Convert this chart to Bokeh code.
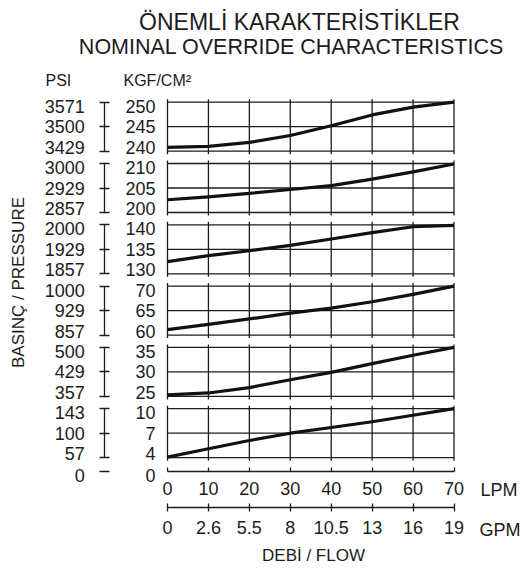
import numpy as np
from bokeh.plotting import figure
from bokeh.models import Range1d, LinearAxis, FixedTicker, Label, ColumnDataSource
from bokeh.embed import file_html
from bokeh.resources import INLINE

# ---------------- data ----------------
lpm = [0, 10, 20, 30, 40, 50, 60, 70]
gpm_labels = ["0", "2.6", "5.5", "8", "10.5", "13", "16", "19"]

kgf_ticks = [
    [240, 245, 250],
    [200, 205, 210],
    [130, 135, 140],
    [60, 65, 70],
    [25, 30, 35],
    [4, 7, 10],
]
psi_labels = [
    ["3429", "3500", "3571"],
    ["2857", "2929", "3000"],
    ["1857", "1929", "2000"],
    ["857", "929", "1000"],
    ["357", "429", "500"],
    ["57", "100", "143"],
]
zero_kgf = [0]
zero_psi = ["0"]

curve_250 = [240.8, 241.0, 241.8, 243.2, 245.2, 247.4, 249.0, 250.0]
curve_210 = [202.6, 203.2, 203.9, 204.7, 205.5, 206.8, 208.3, 209.9]
curve_140 = [132.5, 133.7, 134.7, 135.8, 137.1, 138.4, 139.6, 139.9]
curve_70 = [61.1, 62.2, 63.3, 64.5, 65.5, 66.8, 68.3, 70.0]
curve_35 = [25.3, 25.7, 26.8, 28.4, 29.9, 31.7, 33.4, 35.0]
curve_10 = [4.07, 5.1, 6.1, 7.0, 7.7, 8.4, 9.2, 10.0]
curves = [curve_250, curve_210, curve_140, curve_70, curve_35, curve_10]

title_tr = "ÖNEMLİ KARAKTERİSTİKLER"
title_en = "NOMINAL OVERRIDE CHARACTERISTICS"
psi_head = "PSI"
kgf_head = "KGF/CM²"
y_title = "BASINÇ / PRESSURE"
x_title = "DEBİ / FLOW"
lpm_unit = "LPM"
gpm_unit = "GPM"

# ---------------- layout (pixels, top-left origin) ----------------
W, H = 522, 568
X0_PX, X70_PX = 167.0, 453.5          # where 0 and 70 LPM fall
PANEL_TOP0, PANEL_PITCH, PANEL_H = 101.7, 61.3, 49.0
LABEL_INSET = 4.0                      # end labels sit slightly inside each panel
ZERO_PX = 471.0                        # broken-axis zero line
ZERO_LAB_PX = 474.5
GPM_PX = 506.5                         # GPM scale line
PSI_PX = 104.3                         # PSI scale line
EXT = 3.0                              # grid-line overshoot

ppx = (X70_PX - X0_PX) / (lpm[-1] - lpm[0])
x_start = lpm[0] - X0_PX / ppx
x_end = lpm[-1] + (W - X70_PX) / ppx
PSI_X = lpm[0] + (PSI_PX - X0_PX) / ppx

INK = "#1c1c1c"
FONT = "Liberation Sans"

p = figure(width=W, height=H, output_backend="svg", toolbar_location=None,
           x_range=Range1d(x_start, x_end), y_range=Range1d(ZERO_PX - H, ZERO_PX),
           min_border=0, x_axis_location=None, y_axis_location=None, title=None)
p.outline_line_color = None
p.grid.visible = False
p.background_fill_color = "white"
p.border_fill_color = "white"

lab = dict(major_label_text_font=FONT, major_label_text_font_size="18px",
           major_label_text_color=INK, minor_tick_line_color=None)
nolab = dict(major_label_text_color=None, major_label_text_font_size="0px",
             minor_tick_line_color=None)

extra = {"zlab": Range1d(ZERO_LAB_PX - H, ZERO_LAB_PX)}
for i, ticks in enumerate(kgf_ticks):
    lo, hi = ticks[0], ticks[-1]
    top = PANEL_TOP0 + i * PANEL_PITCH
    bot = top + PANEL_H
    upp = (hi - lo) / PANEL_H
    extra[f"p{i}"] = Range1d(lo - (H - bot) * upp, hi + top * upp)
    ltop, lbot = top + LABEL_INSET, bot - LABEL_INSET
    upl = (hi - lo) / (lbot - ltop)
    extra[f"l{i}"] = Range1d(lo - (H - lbot) * upl, hi + ltop * upl)
p.extra_y_ranges = extra

for i, ticks in enumerate(kgf_ticks):
    name, lname = f"p{i}", f"l{i}"
    lo, hi = ticks[0], ticks[-1]
    upp = (hi - lo) / PANEL_H
    hsrc = ColumnDataSource(dict(x0=[lpm[0]] * len(ticks), x1=[lpm[-1]] * len(ticks), y=ticks))
    p.segment(x0="x0", y0="y", x1="x1", y1="y", source=hsrc, y_range_name=name,
              line_color=INK, line_width=1.3)
    vsrc = ColumnDataSource(dict(x=lpm, y0=[lo - EXT * upp] * len(lpm), y1=[hi + EXT * upp] * len(lpm)))
    p.segment(x0="x", y0="y0", x1="x", y1="y1", source=vsrc, y_range_name=name,
              line_color=INK, line_width=1.3)
    p.line(lpm, curves[i], y_range_name=name, line_color="#111111", line_width=3.2,
           line_join="round")

    # KGF/cm2 labels
    p.add_layout(LinearAxis(y_range_name=lname, ticker=FixedTicker(ticks=ticks), fixed_location=lpm[0],
                            axis_line_color=None, major_tick_line_color=None,
                            major_tick_in=0, major_tick_out=0, major_label_standoff=12, **lab), "left")
    # PSI I-beam scale
    p.add_layout(LinearAxis(y_range_name=name, ticker=FixedTicker(ticks=ticks), fixed_location=PSI_X,
                            bounds=(lo, hi), axis_line_color=INK, axis_line_width=1.3,
                            major_tick_line_color=INK, major_tick_line_width=1.3,
                            major_tick_in=5, major_tick_out=5, **nolab), "left")
    # PSI labels
    p.add_layout(LinearAxis(y_range_name=lname, ticker=FixedTicker(ticks=ticks), fixed_location=PSI_X,
                            major_label_overrides=dict(zip(ticks, psi_labels[i])),
                            axis_line_color=None, major_tick_line_color=None,
                            major_tick_in=0, major_tick_out=0, major_label_standoff=20, **lab), "left")

# zero row of the broken pressure scale
p.add_layout(LinearAxis(y_range_name="zlab", ticker=FixedTicker(ticks=zero_kgf), fixed_location=lpm[0],
                        axis_line_color=None, major_tick_line_color=None, major_tick_in=0,
                        major_tick_out=0, major_label_standoff=12, **lab), "left")
p.add_layout(LinearAxis(ticker=FixedTicker(ticks=zero_kgf), fixed_location=PSI_X, axis_line_color=None,
                        major_tick_line_color=INK, major_tick_line_width=1.3, major_tick_in=5,
                        major_tick_out=5, **nolab), "left")
p.add_layout(LinearAxis(y_range_name="zlab", ticker=FixedTicker(ticks=zero_kgf), fixed_location=PSI_X,
                        major_label_overrides=dict(zip(zero_kgf, zero_psi)),
                        axis_line_color=None, major_tick_line_color=None, major_tick_in=0,
                        major_tick_out=0, major_label_standoff=20, **lab), "left")

# flow scales
lpm_ax = LinearAxis(ticker=FixedTicker(ticks=lpm), fixed_location=0, bounds=(lpm[0], lpm[-1]),
                    axis_line_color=INK, axis_line_width=1.3, major_tick_line_color=INK,
                    major_tick_line_width=1.3, major_tick_in=4, major_tick_out=0,
                    major_label_standoff=10, **lab)
p.add_layout(lpm_ax, "below")
gpm_ax = LinearAxis(ticker=FixedTicker(ticks=lpm), fixed_location=ZERO_PX - GPM_PX,
                    bounds=(lpm[0], lpm[-1]),
                    major_label_overrides=dict(zip(lpm, gpm_labels)),
                    axis_line_color=INK, axis_line_width=1.3, major_tick_line_color=INK,
                    major_tick_line_width=1.3, major_tick_in=4, major_tick_out=4,
                    major_label_standoff=10, **lab)
p.add_layout(gpm_ax, "below")

def add_label(text, x, y, size, align="left", angle=0.0, color=INK):
    p.add_layout(Label(x=x, y=y, x_units="canvas", y_units="canvas", text=text,
                       text_font=FONT, text_font_size=size, text_color=color,
                       text_align=align, text_baseline="alphabetic", angle=angle))

add_label(title_tr, 299, 21, "23px", "center")
add_label(title_en, 291, 46, "21.5px", "center")
add_label(psi_head, 45, 80, "16px")
add_label(kgf_head, 123, 80, "16px")
add_label(lpm_unit, 480, 489, "18px")
add_label(gpm_unit, 479, 529, "18px")
add_label(x_title, 313, 555, "17px", "center")
add_label(y_title, 18, 282, "17px", "center", angle=np.pi / 2)

open("out.html", "w").write(file_html(p, INLINE))
